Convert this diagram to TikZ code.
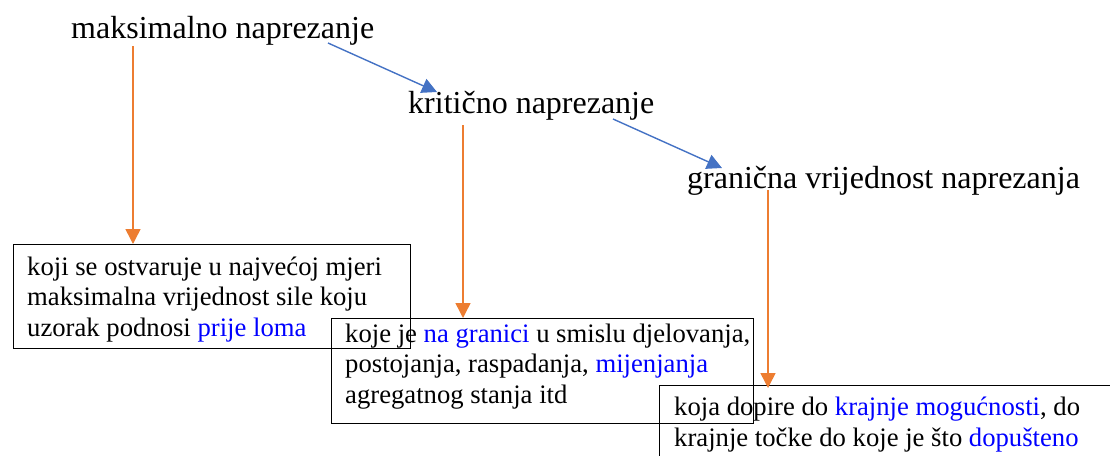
\documentclass[tikz,border=0pt]{standalone}
\usepackage{fontspec}
\setmainfont{Liberation Serif}
\usetikzlibrary{arrows.meta}
\definecolor{offorange}{HTML}{ED7D31}
\definecolor{offblue}{HTML}{4472C4}
\definecolor{txtblue}{HTML}{0000FF}
\tikzset{
  title/.style={font=\fontsize{32}{36}\selectfont, inner sep=0pt, anchor=base west},
  boxtxt/.style={font=\fontsize{26.67}{30.3}\selectfont, inner sep=0pt, anchor=base west, align=left},
  frame/.style={draw=black, line width=1.3pt, anchor=north west, inner sep=0pt},
  oarrow/.style={draw=offorange, line width=1.5pt, -{Triangle[length=15pt,width=15pt]}},
  barrow/.style={draw=offblue, line width=1.4pt, -{Triangle[length=15pt,width=15pt]}},
}
\begin{document}
\begin{tikzpicture}[x=1pt,y=-1pt]
\useasboundingbox (0,0) rectangle (1110,455);
\clip (0,0) rectangle (1110,455);
% titles
\node[title] (t1) at (71,38) {maksimalno naprezanje};
\node[title] (t2) at (408,113) {kritično naprezanje};
\node[title] (t3) at (687,188) {granična vrijednost naprezanja};
% boxes
\node[frame, minimum width=397pt, minimum height=104pt] (b1) at (13,244) {};
\node[frame, minimum width=422pt, minimum height=105pt] (b2) at (331,318) {};
\node[frame, minimum width=470pt, minimum height=100pt] (b3) at (659,385) {};
% box texts (base anchor = last line)
\node[boxtxt] (x1) at (27,336) {koji se ostvaruje u najvećoj mjeri\\maksimalna vrijednost sile koju\\uzorak podnosi {\color{txtblue}prije loma}};
\node[boxtxt] (x2) at (345,403) {koje je {\color{txtblue}na granici} u smislu djelovanja,\\postojanja, raspadanja, {\color{txtblue}mijenjanja}\\agregatnog stanja itd};
\node[boxtxt] (x3) at (674,446) {koja dopire do {\color{txtblue}krajnje mogućnosti}, do\\krajnje točke do koje je što {\color{txtblue}dopušteno}};
% arrow start points
\coordinate (o1) at (133,46);
\coordinate (o2) at (463,125);
\coordinate (o3) at (768,190);
\coordinate (bl1) at (328,43);
\coordinate (bl1e) at (437,92);
\coordinate (bl2) at (613,119);
\coordinate (bl2e) at (722,168);
\draw[oarrow] (o1) -- (o1 |- b1.north);
\draw[oarrow] (o2) -- (o2 |- b2.north);
\draw[oarrow] (o3) -- ([yshift=-3pt]o3 |- b3.north);
\draw[barrow] (bl1) -- (bl1e);
\draw[barrow] (bl2) -- (bl2e);
\end{tikzpicture}
\end{document}
